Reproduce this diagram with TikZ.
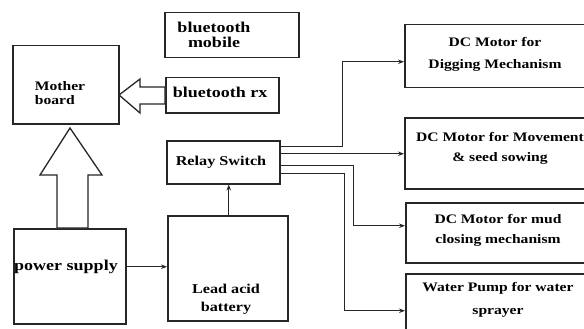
\documentclass[tikz,border=0pt]{standalone}
\usepackage{fontspec}
\setmainfont{Liberation Serif}[FakeStretch=1.2]
\usetikzlibrary{arrows.meta}
\begin{document}
\begin{tikzpicture}[x=1pt,y=-1pt,
  box/.style={draw=black!85, line width=1.5pt, inner sep=0pt, anchor=north west},
  lbl/.style={font=\bfseries\fontsize{13}{15}\selectfont, align=center, text=black, inner sep=0pt},
  conn/.style={draw=black!85, line width=1.2pt, -{Stealth[length=6pt,width=4.5pt]}},
  hollow/.style={draw=black!85, line width=1.3pt, fill=white, line join=miter}]
\useasboundingbox (0,0) rectangle (584,329);
\clip (0,0) rectangle (584,329);
% boxes
\node[box, minimum width=106pt, minimum height=78pt] (mb) at (12,45) {};
\node[box, minimum width=134pt, minimum height=45pt] (btm) at (164,12) {};
\node[box, minimum width=113pt, minimum height=35pt] (btrx) at (165,77) {};
\node[box, minimum width=113pt, minimum height=43pt] (relay) at (166,140) {};
\node[box, minimum width=112pt, minimum height=95pt] (ps) at (13,228) {};
\node[box, minimum width=120pt, minimum height=105pt] (bat) at (167,215) {};
\node[box, minimum width=190pt, minimum height=63pt] (dig) at (404,24) {};
\node[box, minimum width=190pt, minimum height=71pt] (mov) at (404,117) {};
\node[box, minimum width=190pt, minimum height=60pt] (mud) at (405,202) {};
\node[box, minimum width=190pt, minimum height=57pt] (wat) at (405,273) {};
% texts
\node[lbl, align=left, font=\bfseries\fontsize{13}{14}\selectfont] (tmb) at (60,93) {Mother\\board};
\node[lbl, font=\bfseries\fontsize{15}{15}\selectfont] (tbtm) at (214,35) {bluetooth\\mobile};
\node[lbl, font=\bfseries\fontsize{15}{15}\selectfont] (tbtrx) at (220,92) {bluetooth rx};
\node[lbl, font=\bfseries\fontsize{13.5}{15}\selectfont] (trelay) at (221,162) {Relay Switch};
\node[lbl, font=\bfseries\fontsize{15}{15}\selectfont] (tps) at (66,267) {power supply};
\node[lbl, font=\bfseries\fontsize{13.5}{18}\selectfont] (tbat) at (226,299) {Lead acid\\battery};
\node[lbl, font=\bfseries\fontsize{13}{22}\selectfont] (tdig) at (495,54) {DC Motor for\\Digging Mechanism};
\node[lbl, font=\bfseries\fontsize{13}{20}\selectfont] (tmov) at (500,148) {DC Motor for Movement\\\& seed sowing};
\node[lbl, font=\bfseries\fontsize{13}{20}\selectfont] (tmud) at (498,230) {DC Motor for mud\\closing mechanism};
\node[lbl, font=\bfseries\fontsize{13}{23}\selectfont] (twat) at (498,300) {Water Pump for water\\sprayer};
% hollow arrows
\draw[hollow] (70,128) -- (102,175) -- (88,175) -- (88,228) -- (57,228) -- (57,175) -- (40,175) -- cycle;
\draw[hollow] (119,95) -- (140,79) -- (140,87) -- (165,87) -- (165,104) -- (140,104) -- (140,113) -- cycle;
% connectors
\draw[conn] ([yshift=9.5pt]ps.east) -- ([yshift=9.5pt]ps.east -| bat.west);
\draw[conn] ([xshift=1pt]bat.north) -- ([xshift=1pt]bat.north |- relay.south);
\draw[conn] ([yshift=15.5pt]relay.east) -- ++(62,0) |- ([yshift=-5.5pt]dig.west);
\draw[conn] ([yshift=8.5pt]relay.east) -- ([yshift=8.5pt]relay.east -| mov.west);
\draw[conn] ([yshift=-3.5pt]relay.east) -- ++(73,0) |- ([yshift=7pt]mud.west);
\draw[conn] ([yshift=-11.5pt]relay.east) -- ++(64,0) |- ([yshift=-8.5pt]wat.west);
\end{tikzpicture}
\end{document}
